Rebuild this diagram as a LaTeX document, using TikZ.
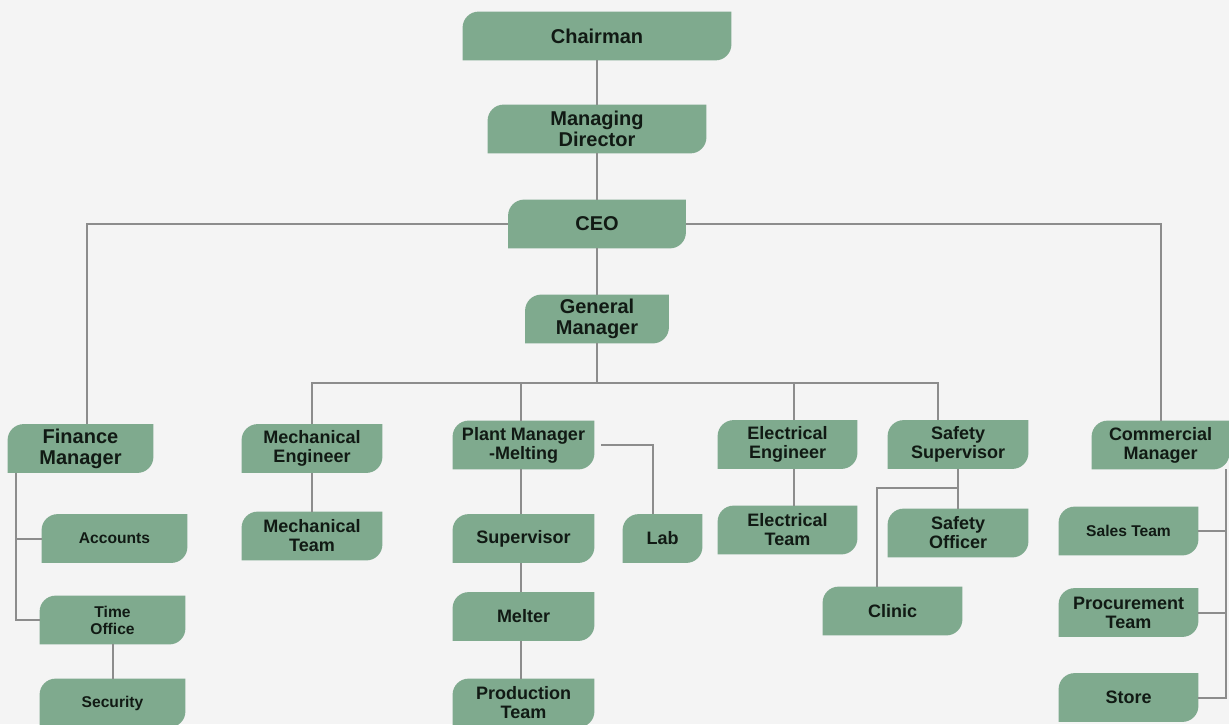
\documentclass[tikz,border=0pt]{standalone}
\usepackage{fontspec}
\setmainfont{Liberation Sans}
\definecolor{leafgreen}{HTML}{7FAA8E}
\definecolor{linegrey}{HTML}{8C8C8C}
\definecolor{paper}{HTML}{F4F4F4}
\definecolor{ink}{HTML}{111A14}
\pgfdeclarelayer{bg}
\pgfdeclarelayer{leaves}
\pgfsetlayers{bg,leaves,main}
\newcommand{\orgbox}[5][]{\node[leaf,minimum width=#4,#1] at (#2) (#3) {#5};
	\begin{pgfonlayer}{leaves}
		\fill[leafgreen] (#3.south west) -- ([yshift=-8pt]#3.north west) arc[start angle=180,end angle=90,radius=8pt] -- (#3.north east) -- ([yshift=8pt]#3.south east) arc[start angle=0,end angle=-90,radius=8pt] -- cycle;
	\end{pgfonlayer}}

\begin{document}
\begin{tikzpicture}[x=0.5pt,y=-0.5pt,
		leaf/.style={rectangle,inner sep=0pt,minimum height=24pt,align=center,text=ink,font=\fontsize{9}{9.5}\selectfont\bfseries},
		big/.style={font=\fontsize{10}{10.5}\selectfont\bfseries},
		small/.style={font=\fontsize{7.8}{8.5}\selectfont\bfseries},
		wire/.style={draw=linegrey,line width=1pt}]
				\begin{pgfonlayer}{bg}
					\fill[paper] (0,0) rectangle (1229,724);
				\end{pgfonlayer}
				\useasboundingbox (0,0) rectangle (1229,724);
				
				\orgbox[big]{597,36}{chairman}{134pt}{Chairman};
				\orgbox[big]{597,129}{md}{109pt}{Managing\\Director};
				\orgbox[big]{597,224}{ceo}{88.5pt}{CEO};
				\orgbox[big]{597,319}{gm}{71.5pt}{General\\Manager};
				
				\orgbox[big]{80.5,448.5}{finmgr}{72.5pt}{Finance\\Manager};
				\orgbox[small]{114.5,538.5}{accounts}{72.5pt}{Accounts};
				\orgbox[small]{112.5,620}{timeoff}{72.5pt}{Time\\Office};
				\orgbox[small]{112.5,703}{security}{72.5pt}{Security};
				
				\orgbox{312,448.5}{mecheng}{70pt}{Mechanical\\Engineer};
				\orgbox{312,536}{mechteam}{70pt}{Mechanical\\Team};
				
				\orgbox{523.5,445}{plantmgr}{70.5pt}{Plant Manager\\-Melting};
				\orgbox{662.5,538.5}{lab}{39.5pt}{Lab};
				\orgbox{523.5,538.5}{supervisor}{70.5pt}{Supervisor};
				\orgbox{523.5,616.5}{melter}{70.5pt}{Melter};
				\orgbox{523.5,703}{prodteam}{70.5pt}{Production\\Team};
				
				\orgbox{787.5,444.5}{eleceng}{69.5pt}{Electrical\\Engineer};
				\orgbox{787.5,530}{electeam}{69.5pt}{Electrical\\Team};
				
				\orgbox{958,444.5}{safesup}{70pt}{Safety\\Supervisor};
				\orgbox{958,533}{safeoff}{70pt}{Safety\\Officer};
				\orgbox{892.5,611}{clinic}{69.5pt}{Clinic};
				
				\orgbox{1160.5,445}{commgr}{68.5pt}{Commercial\\Manager};
				\orgbox[small]{1128.5,531}{sales}{69.5pt}{Sales Team};
				\orgbox{1128.5,612.5}{procure}{69.5pt}{Procurement\\Team};
				\orgbox{1128.5,697.5}{store}{69.5pt}{Store};
				
				\coordinate (bus) at (597,383);
				\coordinate (clinicjoin) at (958,488);
				
				\draw[wire] (chairman) -- (md);
				\draw[wire] (md) -- (ceo);
				\draw[wire] (ceo) -- (gm);
				\draw[wire] (ceo.west) -| ([xshift=3pt]finmgr.north);
				\draw[wire] (ceo.east) -| (commgr.north);
				
				\draw[wire] (gm) -- (bus);
				\draw[wire] (bus) -| (mecheng.north);
				\draw[wire] (bus) -| ([xshift=-1.5pt]plantmgr.north);
				\draw[wire] (bus) -| ([xshift=3pt]eleceng.north);
				\draw[wire] (bus) -| ([xshift=-10pt]safesup.north);
				
				\draw[wire] ([xshift=4pt]finmgr.south west) |- (accounts.west);
				\draw[wire] ([xshift=4pt]finmgr.south west) |- (timeoff.west);
				\draw[wire] (timeoff) -- (security);
				
				\draw[wire] (mecheng) -- (mechteam);
				
				\draw[wire] ([xshift=-1.5pt]plantmgr.south) -- ([xshift=-1.5pt]supervisor.north);
				\draw[wire] ([xshift=-1.5pt]supervisor.south) -- ([xshift=-1.5pt]melter.north);
				\draw[wire] ([xshift=-1.5pt]melter.south) -- ([xshift=-1.5pt]prodteam.north);
				\draw[wire] ([xshift=3.5pt]plantmgr.east) -| ([xshift=-5pt]lab.north);
				
				\draw[wire] ([xshift=3pt]eleceng.south) -- ([xshift=3pt]electeam.north);
				
				\draw[wire] (safesup) -- (safeoff);
				\draw[wire] (clinicjoin) -| ([xshift=-8pt]clinic.north);
				
				\draw[wire] ([xshift=-1.5pt]commgr.south east) |- (sales.east);
				\draw[wire] ([xshift=-1.5pt]commgr.south east) |- (procure.east);
				\draw[wire] ([xshift=-1.5pt]commgr.south east) |- (store.east);
				
				\end{tikzpicture}
\end{document}
